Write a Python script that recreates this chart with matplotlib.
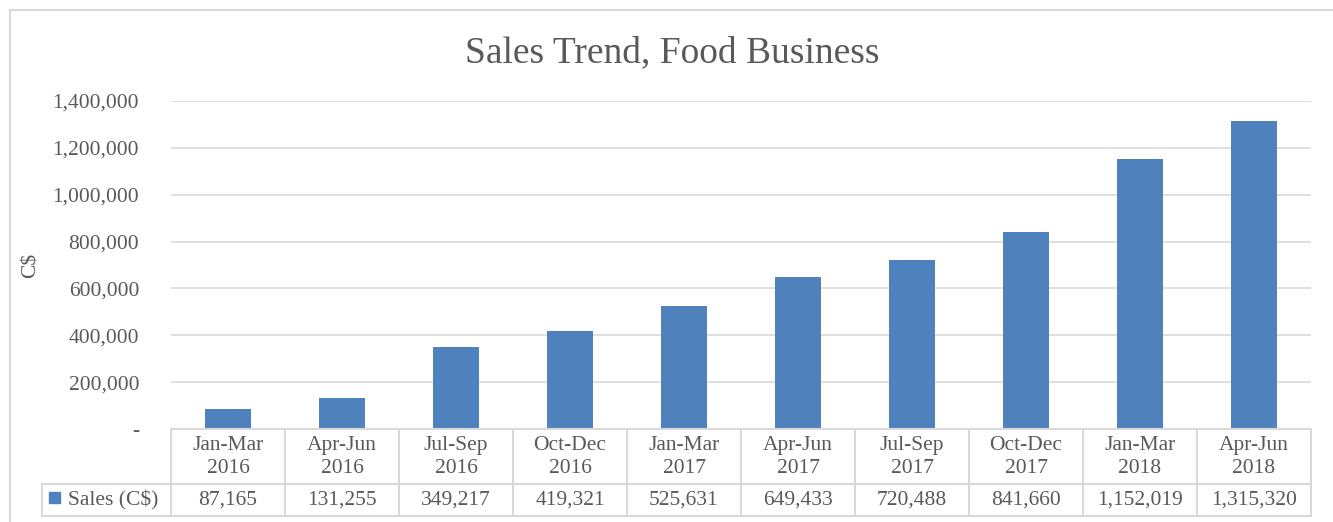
import matplotlib.pyplot as plt
from matplotlib.ticker import FuncFormatter
from matplotlib.patches import Rectangle
from matplotlib.lines import Line2D

# data
quarters = ["Jan-Mar\n2016", "Apr-Jun\n2016", "Jul-Sep\n2016", "Oct-Dec\n2016",
            "Jan-Mar\n2017", "Apr-Jun\n2017", "Jul-Sep\n2017", "Oct-Dec\n2017",
            "Jan-Mar\n2018", "Apr-Jun\n2018"]
sales = [87165, 131255, 349217, 419321, 525631, 649433, 720488, 841660,
         1152019, 1315320]
series_name = "Sales (C$)"

BLUE = "#4F81BD"
TEXT = "#595959"
GRID = "#D9D9D9"
FS = 15.5

plt.rcParams["font.family"] = ["Liberation Serif", "DejaVu Serif"]

W, H = 1333, 522
fig = plt.figure(figsize=(W / 100, H / 100), dpi=100)

def fx(px):
    return px / W

def fy(py):
    return 1 - py / H

# chart area border (left and top visible)
fig.add_artist(Line2D([fx(9.5), fx(9.5)], [fy(10), 0], color=GRID, lw=1.5))
fig.add_artist(Line2D([fx(9.5), 1], [fy(10), fy(10)], color=GRID, lw=1.5))

left, right, top, bottom = 171, 1311, 101, 429
ax = fig.add_axes([fx(left), fy(bottom), fx(right) - fx(left), (bottom - top) / H])

x = range(len(sales))
ax.bar(x, sales, width=0.4, color=BLUE, zorder=3)
ax.set_xlim(-0.5, len(sales) - 0.5)
ax.set_ylim(0, 1400000)
ax.set_yticks(range(0, 1400001, 200000))
ax.yaxis.set_major_formatter(FuncFormatter(lambda v, p: "-" if v == 0 else f"{int(v):,}"))
ax.tick_params(axis="y", length=0, pad=23, labelsize=FS, labelcolor=TEXT)
ax.set_xticks([])
ax.grid(axis="y", color=GRID, lw=1.2, zorder=0)
for s in ax.spines.values():
    s.set_visible(False)

fig.text(fx(31), fy(265), "C$", rotation=90, ha="center", va="center",
         fontsize=FS, color=TEXT)

fig.text(fx(672), fy(53), "Sales Trend, Food Business", ha="center", va="center",
         fontsize=27, color=TEXT)

# data table below the axes
row1_top, row1_bot, row2_bot = 429, 484, 516
tab_left = 42
lkw = dict(color=GRID, lw=1.5)
fig.add_artist(Line2D([fx(left), fx(right)], [fy(row1_top), fy(row1_top)], **lkw))
fig.add_artist(Line2D([fx(tab_left), fx(right)], [fy(row1_bot), fy(row1_bot)], **lkw))
fig.add_artist(Line2D([fx(tab_left), fx(right)], [fy(row2_bot), fy(row2_bot)], **lkw))
fig.add_artist(Line2D([fx(tab_left), fx(tab_left)], [fy(row1_bot), fy(row2_bot)], **lkw))

cat_w = (right - left) / len(sales)
for i in range(len(sales) + 1):
    xp = left + i * cat_w
    fig.add_artist(Line2D([fx(xp), fx(xp)], [fy(row1_top), fy(row2_bot)], **lkw))

for i, (q, v) in enumerate(zip(quarters, sales)):
    xc = left + (i + 0.5) * cat_w
    fig.text(fx(xc), fy(457), q, ha="center", va="center", fontsize=FS,
             color=TEXT, linespacing=1.3)
    fig.text(fx(xc), fy(500), f"{v:,}", ha="center", va="center", fontsize=FS,
             color=TEXT)

fig.add_artist(Rectangle((fx(49), fy(503)), fx(11), 11 / H, color=BLUE))
fig.text(fx(68), fy(500), series_name, ha="left", va="center", fontsize=FS, color=TEXT)

fig.savefig("out.png", dpi=100)
